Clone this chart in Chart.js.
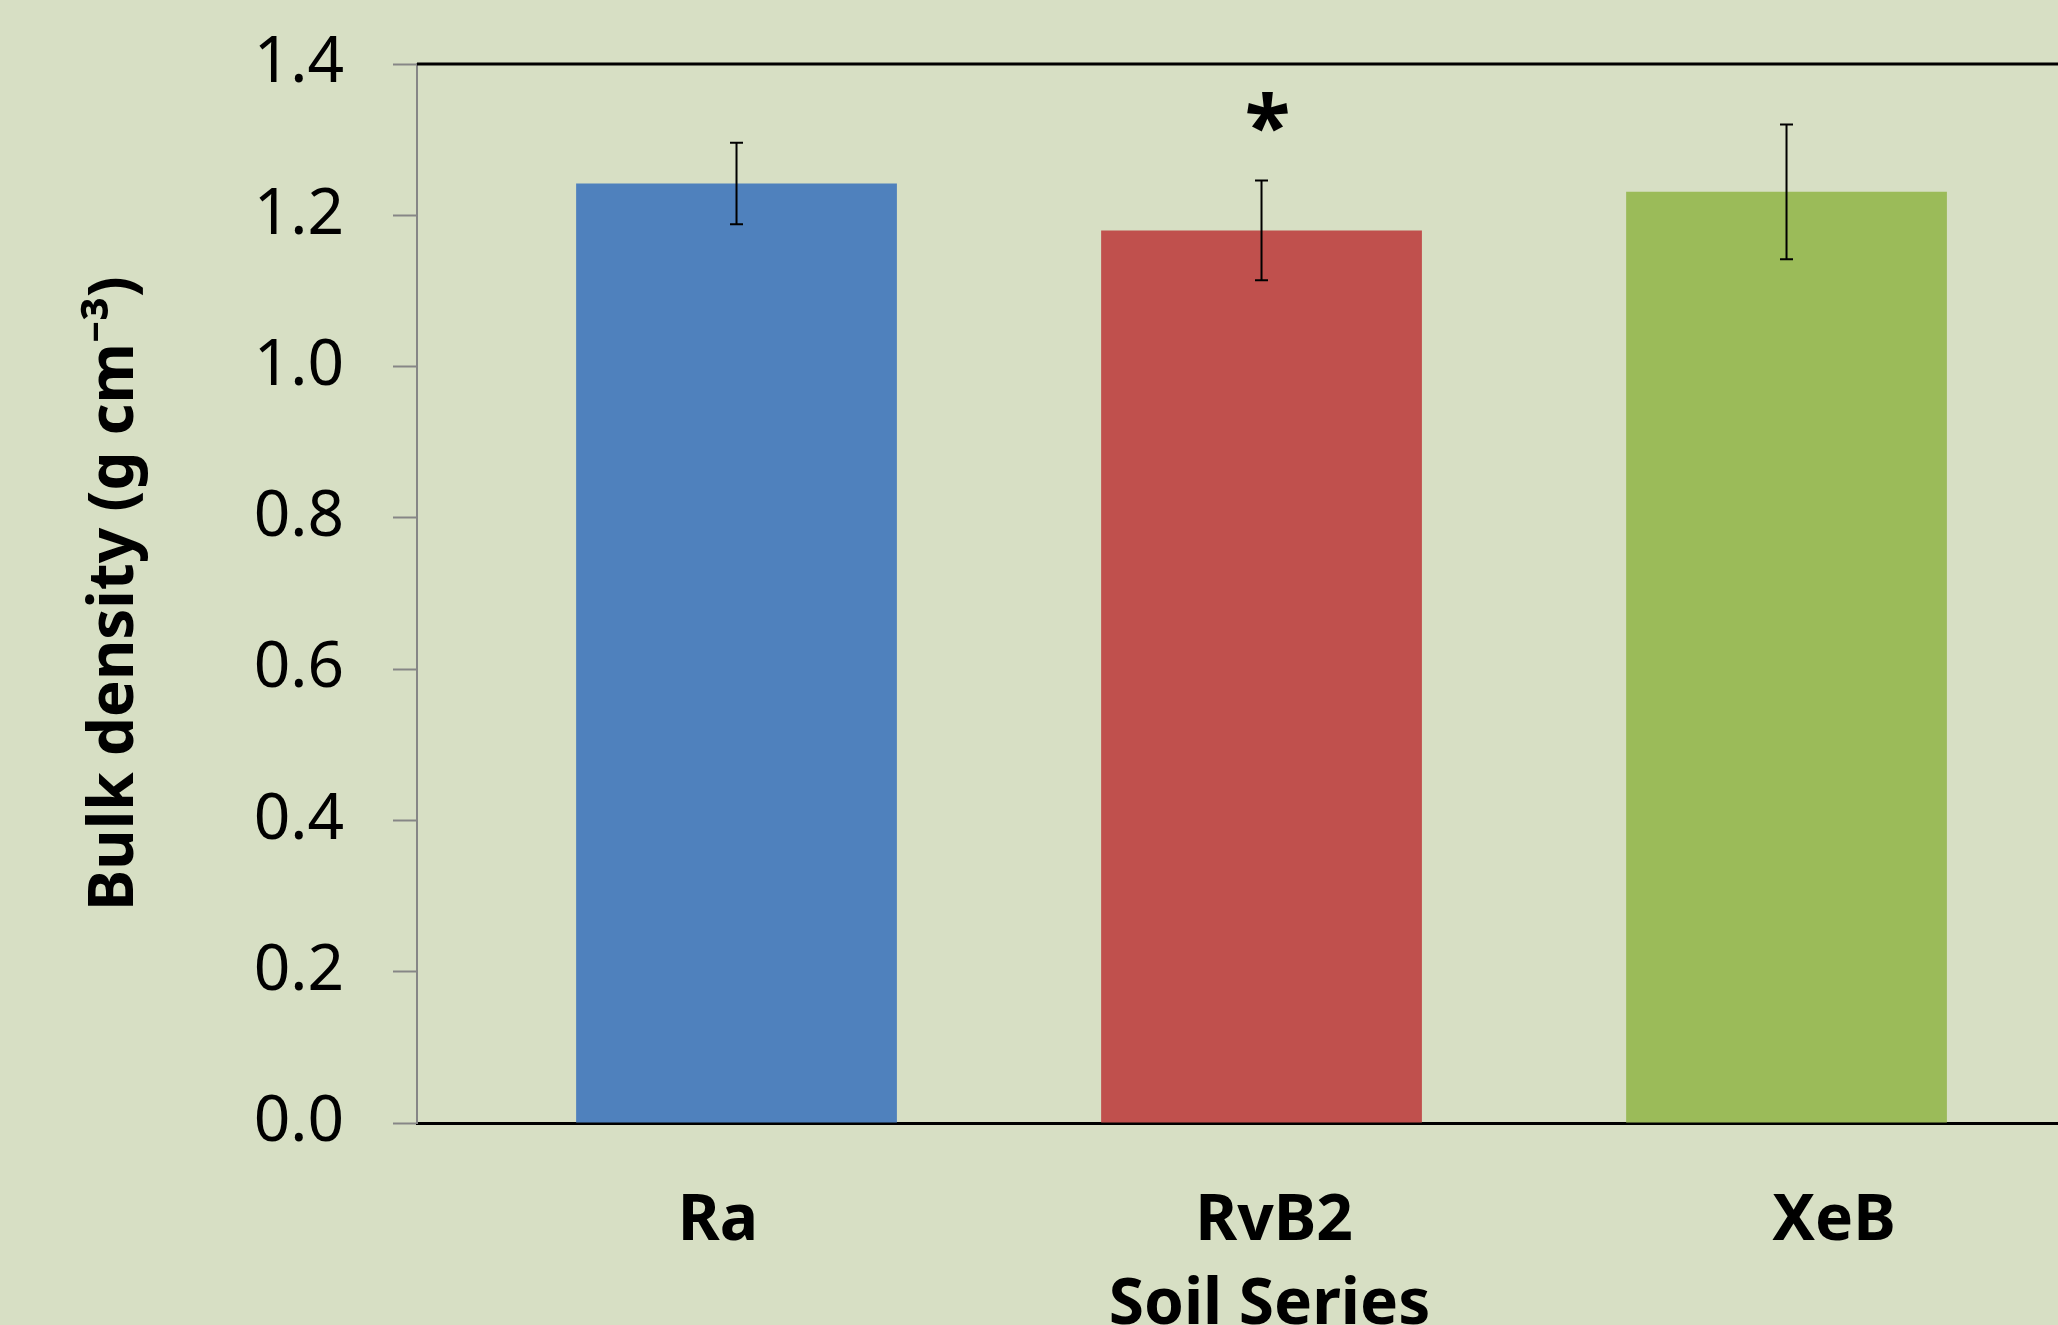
<!DOCTYPE html>
<html>
<head>
<meta charset="utf-8">
<script src="https://cdn.jsdelivr.net/npm/chart.js@4.4.1/dist/chart.umd.min.js"></script>
<style>
  html, body { margin: 0; padding: 0; background: #d7dfc4; overflow: hidden; }
  /* el gráfico original está recortado por la derecha */
  #wrap { width: 2122px; height: 1325px; }
</style>
</head>
<body>
<div id="wrap"><canvas id="bd"></canvas></div>
<script>
// datos
const categories = ['Ra', 'RvB2', 'XeB'];
const bulkDensity = [1.242, 1.180, 1.231];
const stdError = [0.054, 0.066, 0.089];
const marks = ['', '*', ''];
const barColors = ['#4f81bd', '#c0504d', '#9bbb59'];
const yTicks = [0, 0.2, 0.4, 0.6, 0.8, 1.0, 1.2, 1.4];

const FONT = '"Noto Sans", "Open Sans", sans-serif';

// fondo del lienzo
const bgPlugin = {
    id: 'bg',
    beforeDraw(chart) {
        const ctx = chart.ctx;
        ctx.save();
        ctx.fillStyle = '#d7dfc4';
        ctx.fillRect(0, 0, chart.width, chart.height);
        ctx.restore();
    }
};

// línea superior del área de trazado
const topLine = {
    id: 'topLine',
    beforeDatasetsDraw(chart) {
        const { ctx, chartArea } = chart;
        ctx.save();
        ctx.strokeStyle = '#000';
        ctx.lineWidth = 3;
        ctx.beginPath();
        ctx.moveTo(chartArea.left, chartArea.top);
        ctx.lineTo(chartArea.right, chartArea.top);
        ctx.stroke();
        ctx.restore();
    }
};

// barras de error y asterisco
const errorBars = {
    id: 'errorBars',
    afterDatasetsDraw(chart) {
        const ctx = chart.ctx;
        const y = chart.scales.y;
        const meta = chart.getDatasetMeta(0);
        ctx.save();
        meta.data.forEach((bar, i) => {
            const hi = y.getPixelForValue(bulkDensity[i] + stdError[i]);
            const lo = y.getPixelForValue(bulkDensity[i] - stdError[i]);
            ctx.strokeStyle = '#000';
            ctx.lineWidth = 2;
            ctx.beginPath();
            ctx.moveTo(bar.x, hi); ctx.lineTo(bar.x, lo);
            ctx.moveTo(bar.x - 6.5, hi); ctx.lineTo(bar.x + 6.5, hi);
            ctx.moveTo(bar.x - 6.5, lo); ctx.lineTo(bar.x + 6.5, lo);
            ctx.stroke();
            if (marks[i]) {
                ctx.fillStyle = '#000';
                ctx.font = 'bold 84px ' + FONT;
                ctx.textAlign = 'center';
                ctx.textBaseline = 'alphabetic';
                const m = ctx.measureText(marks[i]);
                const top = hi - 88;
                ctx.fillText(marks[i], bar.x + 6, top + m.actualBoundingBoxAscent);
            }
        });
        ctx.restore();
    }
};

const ctx = document.getElementById('bd').getContext('2d');
new Chart(ctx, {
    type: 'bar',
    data: {
        datasets: [{
            data: bulkDensity.map((v, i) => ({ x: i + 1, y: v })),
            backgroundColor: barColors,
            borderWidth: 0,
            barPercentage: 0.611,
            categoryPercentage: 1
        }]
    },
    options: {
        responsive: true,
        maintainAspectRatio: false,
        animation: false,
        layout: { padding: { top: 64, left: 0, right: 0, bottom: 0 } },
        plugins: {
            legend: { display: false },
            tooltip: { enabled: false }
        },
        scales: {
            x: {
                type: 'linear',
                offset: false,
                min: 0.3914,
                max: 3.639,
                afterBuildTicks: (s) => {
                    s.ticks = [0.9647, 2.0238, 3.0904].map(v => ({ value: v }));
                },
                afterFit: (s) => { s.height = 202; },
                grid: { display: false, drawTicks: false },
                border: { display: true, color: '#000', width: 3 },
                ticks: {
                    autoSkip: false,
                    maxRotation: 0,
                    padding: 60,
                    color: '#000',
                    font: { family: FONT, size: 64, weight: 'bold' },
                    callback: (v, i) => categories[i]
                },
                title: {
                    display: true,
                    text: 'Soil Series',
                    color: '#000',
                    font: { family: FONT, size: 64, weight: 'bold', lineHeight: 0.6 },
                    padding: 0
                }
            },
            y: {
                min: 0,
                max: 1.4,
                afterBuildTicks: (s) => {
                    s.ticks = yTicks.map(v => ({ value: v }));
                },
                afterFit: (s) => { s.width = 417; },
                grid: {
                    display: true,
                    drawOnChartArea: false,
                    drawTicks: true,
                    tickLength: 24,
                    tickWidth: 2,
                    tickColor: '#868686'
                },
                border: { display: true, color: '#868686', width: 2 },
                ticks: {
                    padding: 49,
                    color: '#000',
                    font: { family: FONT, size: 64, lineHeight: 0.4 },
                    callback: (v) => Number(v).toFixed(1)
                },
                title: {
                    display: true,
                    text: 'Bulk density (g cm⁻³)',
                    color: '#000',
                    font: { family: FONT, size: 62, weight: 'bold', lineHeight: 1.2 },
                    padding: 78
                }
            }
        }
    },
    plugins: [bgPlugin, topLine, errorBars]
});
</script>
</body>
</html>
